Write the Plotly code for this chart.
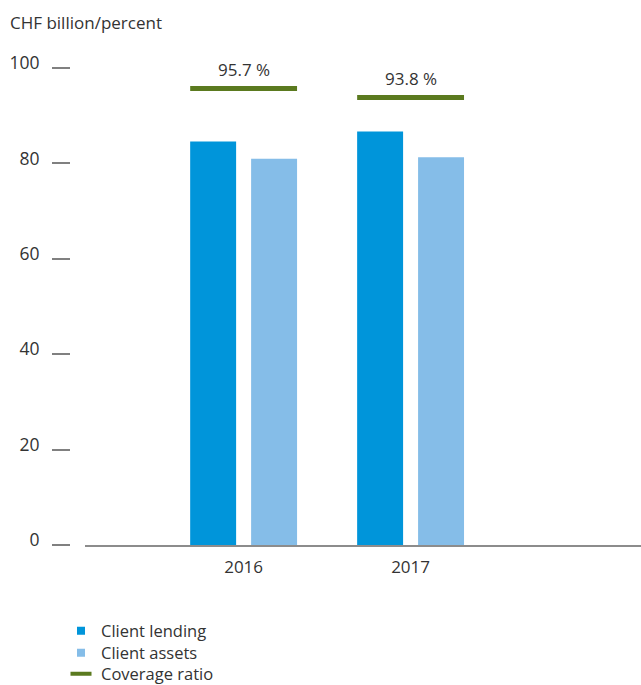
import plotly.graph_objects as go

# Data
years = ["2016", "2017"]
client_lending = [84.6, 86.7]      # CHF billion
client_assets = [81.0, 81.3]       # CHF billion
coverage_ratio = [95.7, 93.8]      # percent
y_ticks = [0, 20, 40, 60, 80, 100]

LENDING_BLUE = "#0095DA"
ASSETS_BLUE = "#85BDE8"
COVERAGE_GREEN = "#5B7A1F"
AXIS_GREY = "#8C8C8C"
TICK_GREY = "#808080"
TEXT = "#333333"
FONT = "Open Sans"

W, H = 641, 685
PLOT_TOP, PLOT_BOTTOM = 68, 545
x_pos = list(range(len(years)))
half_group = 0.32  # half width of a bar group in x units

fig = go.Figure()

fig.add_trace(go.Bar(
    x=x_pos, y=client_lending, name="Client lending", showlegend=False,
    marker=dict(color=LENDING_BLUE, line=dict(width=0)),
))
fig.add_trace(go.Bar(
    x=x_pos, y=client_assets, name="Client assets", showlegend=False,
    marker=dict(color=ASSETS_BLUE, line=dict(width=0)),
))

# Coverage ratio drawn as a horizontal bar across each group
for xp, val in zip(x_pos, coverage_ratio):
    fig.add_trace(go.Scatter(
        x=[xp - half_group, xp + half_group], y=[val, val],
        mode="lines", line=dict(color=COVERAGE_GREEN, width=5),
        name="Coverage ratio", showlegend=False, hoverinfo="skip",
    ))
    fig.add_annotation(
        x=xp, y=val, xref="x", yref="y",
        text=f"{val:.1f} %", showarrow=False,
        yshift=19, font=dict(family=FONT, size=17, color=TEXT),
    )

# Compact legend keys: small squares for the bars, a short dash for the ratio,
# each in its own legend box so the rows sit close together
legend_keys = [
    ("Client lending", "square", LENDING_BLUE, 8, 0),
    ("Client assets", "square", ASSETS_BLUE, 8, 0),
    ("Coverage ratio", "line-ew-open", COVERAGE_GREEN, 15, 4),
]
legend_rows_px = [631, 653, 674]
legend_names = ["legend", "legend2", "legend3"]
plot_h = PLOT_BOTTOM - PLOT_TOP
legend_layout = {}
for (label, symbol, color, size, lw), row_px, lg in zip(legend_keys, legend_rows_px, legend_names):
    fig.add_trace(go.Scatter(
        x=[None], y=[None], mode="markers", name=label, legend=lg,
        marker=dict(symbol=symbol, color=color, size=size,
                    line=dict(color=color, width=lw)),
    ))
    legend_layout[lg] = dict(
        x=61 / W, y=(PLOT_BOTTOM - row_px) / plot_h,
        xanchor="left", yanchor="middle", orientation="v",
        font=dict(family=FONT, size=16.5, color=TEXT),
        itemwidth=30, bgcolor="rgba(0,0,0,0)", borderwidth=0,
    )

plot_left = 85 / W

fig.update_layout(
    width=W, height=H,
    margin=dict(l=0, r=0, t=PLOT_TOP, b=H - PLOT_BOTTOM, autoexpand=False),
    paper_bgcolor="white", plot_bgcolor="white",
    barmode="group", bargap=0.27, bargroupgap=0.246,
    font=dict(family=FONT, size=16, color=TEXT),
    showlegend=True,
    title=dict(
        text="CHF billion/percent", x=10 / W, xref="container",
        y=1 - 23 / H, yref="container", xanchor="left", yanchor="middle",
        font=dict(family=FONT, size=17, color=TEXT),
    ),
    xaxis=dict(
        domain=[plot_left, 1], range=[-0.95, 2.38],
        tickvals=x_pos, ticktext=years, ticks="",
        ticklabelstandoff=6,
        showline=True, linecolor=AXIS_GREY, linewidth=2,
        showgrid=False, zeroline=False, automargin=False,
        tickfont=dict(family=FONT, size=17, color=TEXT),
    ),
    yaxis=dict(
        range=[0, 100], tickvals=y_ticks,
        anchor="free", position=70 / W,
        showline=False, showgrid=False, zeroline=False,
        ticks="outside", ticklen=18, tickwidth=1.6, tickcolor=TICK_GREY,
        ticklabelstandoff=9, ticklabelshift=-5, automargin=False,
        tickfont=dict(family=FONT, size=17.5, color=TEXT),
    ),
    **legend_layout,
)

fig.write_html("out.html")
